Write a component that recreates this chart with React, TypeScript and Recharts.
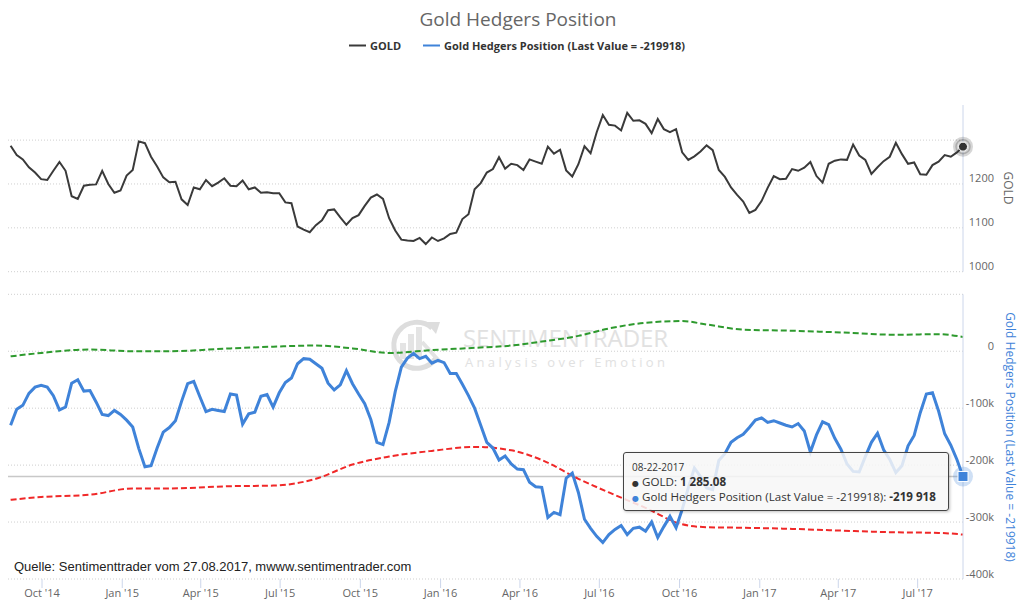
import React from 'react';
import { Line, LineChart, ReferenceLine, XAxis, YAxis } from 'recharts';

// weekly series, first week 2014-08-26, last week 2017-08-22
const START = Date.UTC(2014, 7, 26);
const WEEK = 7 * 24 * 3600 * 1000;

const goldValues = [
  1287, 1266, 1256, 1238, 1226, 1211, 1209, 1230, 1250, 1230,
  1172, 1166, 1196, 1198, 1199, 1230, 1200, 1180, 1185, 1219,
  1232, 1297, 1293, 1262, 1240, 1215, 1204, 1205, 1165, 1152,
  1192, 1188, 1209, 1195, 1203, 1213, 1196, 1195, 1208, 1188,
  1192, 1180, 1181, 1179, 1179, 1158, 1156, 1103, 1096, 1090,
  1106, 1117, 1140, 1142, 1124, 1107, 1122, 1129, 1150, 1169,
  1176, 1166, 1122, 1094, 1073, 1071, 1070, 1077, 1063, 1078,
  1070, 1076, 1086, 1089, 1120, 1131, 1188, 1202, 1226, 1234,
  1261, 1235, 1246, 1243, 1232, 1256, 1251, 1246, 1285, 1269,
  1278, 1231, 1217, 1245, 1286, 1270, 1318, 1357, 1335, 1333,
  1322, 1362, 1344, 1345, 1337, 1316, 1348, 1325, 1318, 1325,
  1272, 1255, 1263, 1274, 1288, 1277, 1232, 1216, 1192, 1175,
  1160, 1134, 1141, 1161, 1191, 1218, 1211, 1212, 1234, 1230,
  1237, 1250, 1218, 1203, 1246, 1253, 1256, 1255, 1290, 1265,
  1255, 1223, 1238, 1252, 1262, 1294, 1268, 1246, 1249, 1222,
  1221, 1243, 1251, 1266, 1262, 1272, 1285.08,
];

const hedgerValues = [
  -130000, -102000, -95000, -74000, -63000, -60000, -63000, -78000, -103000, -98000,
  -56000, -50000, -70000, -69000, -89000, -111000, -113000, -104000, -111000, -121000,
  -133000, -171000, -203000, -201000, -170000, -142000, -134000, -122000, -88000, -57000,
  -53000, -80000, -106000, -102000, -104000, -106000, -75000, -77000, -128000, -110000,
  -107000, -79000, -76000, -98000, -73000, -55000, -47000, -22000, -13000, -14000,
  -22000, -30000, -56000, -68000, -59000, -34000, -57000, -75000, -92000, -120000,
  -160000, -164000, -125000, -71000, -28000, -12000, -4000, -13000, -9000, -21000,
  -16000, -20000, -39000, -39000, -58000, -78000, -100000, -130000, -160000, -170000,
  -191000, -184000, -198000, -207000, -208000, -230000, -238000, -239000, -292000, -283000,
  -287000, -223000, -214000, -248000, -295000, -311000, -325000, -336000, -322000, -313000,
  -306000, -322000, -311000, -309000, -316000, -300000, -327000, -308000, -290000, -310000,
  -278000, -240000, -205000, -220000, -240000, -243000, -192000, -180000, -160000, -152000,
  -146000, -134000, -121000, -117000, -125000, -122000, -126000, -130000, -133000, -127000,
  -140000, -177000, -147000, -124000, -129000, -153000, -172000, -198000, -211000, -212000,
  -185000, -160000, -144000, -173000, -190000, -213000, -201000, -166000, -148000, -108000,
  -75000, -73000, -105000, -145000, -165000, -190000, -219918,
];

// the two dashed bands, read at a handful of weeks
const bandWeeks = [0, 5, 13, 20, 26, 36, 43, 50, 56, 62, 69, 76, 82, 87, 93, 98, 104, 110, 114, 120, 128, 136, 145, 152, 156];
const upperBand = [
  -9000, -3000, 3000, 0, 0, 5000, 8000, 10000, 5000, -3000, 2000, 6000, 10000,
  17000, 27000, 40000, 50000, 53000, 47000, 38000, 36000, 33000, 29000, 30000, 25000,
];
const lowerBand = [
  -261000, -256000, -252000, -241000, -241000, -237000, -236000, -224000, -199000, -185000,
  -175000, -168000, -174000, -191000, -224000, -248000, -275000, -304000, -309000, -310000,
  -312000, -315000, -318000, -319000, -322000,
];

const xTicks = [
  Date.UTC(2014, 9, 1), Date.UTC(2015, 0, 1), Date.UTC(2015, 3, 1), Date.UTC(2015, 6, 1),
  Date.UTC(2015, 9, 1), Date.UTC(2016, 0, 1), Date.UTC(2016, 3, 1), Date.UTC(2016, 6, 1),
  Date.UTC(2016, 9, 1), Date.UTC(2017, 0, 1), Date.UTC(2017, 3, 1), Date.UTC(2017, 6, 1),
];
const xTickLabels = [
  "Oct '14", "Jan '15", "Apr '15", "Jul '15", "Oct '15", "Jan '16",
  "Apr '16", "Jul '16", "Oct '16", "Jan '17", "Apr '17", "Jul '17",
];
const goldTicks = [1000, 1100, 1200, 1300];
const hedgerTicks = [-400000, -300000, -200000, -100000, 0, 100000];

const LAST = goldValues.length - 1;
const X_DOMAIN = [Date.UTC(2014, 7, 23), Date.UTC(2017, 7, 22)];
const FONT = '"Open Sans", "DejaVu Sans", Arial, sans-serif';
const BLUE = '#3f83d9';
const GOLD = '#3a3a3a';
const GRID = '#cfcfcf';
const AXIS = '#ccd6eb';

const weekly = goldValues.map((g, i) => ({ t: START + i * WEEK, gold: g, hedgers: hedgerValues[i] }));
const upperData = bandWeeks.map((w, i) => ({ t: START + w * WEEK, v: upperBand[i] }));
const lowerData = bandWeeks.map((w, i) => ({ t: START + w * WEEK, v: lowerBand[i] }));

const YTick = ({ x, y, payload, hide }: any) => {
  if (payload.value === hide) return <g />;
  const v = payload.value;
  const label = hide === 100000 ? (v === 0 ? '0' : `${v / 1000}k`) : String(v);
  return (
    <text x={x} y={y - 1.5} textAnchor="end" fontSize={11} fill="#666" fontFamily={FONT}>
      {label}
    </text>
  );
};

const XTick = ({ x, y, payload }: any) => (
  <text x={x} y={y} dy="0.71em" textAnchor="middle" fontSize={11} fill="#666" fontFamily={FONT}>
    {xTickLabels[xTicks.indexOf(payload.value)]}
  </text>
);

const goldDot = (props: any) => {
  if (props.index !== LAST) return <g key={`g${props.index}`} />;
  return (
    <g key="gold-last">
      <circle cx={props.cx} cy={props.cy} r={10} fill="#333" fillOpacity={0.2} />
      <circle cx={props.cx} cy={props.cy} r={7} fill="none" stroke="#333" strokeOpacity={0.25} strokeWidth={1.5} />
      <circle cx={props.cx} cy={props.cy} r={4.5} fill="#333" stroke="#fff" strokeWidth={1} />
    </g>
  );
};

const hedgerDot = (props: any) => {
  if (props.index !== LAST) return <g key={`h${props.index}`} />;
  return (
    <g key="hedger-last">
      <circle cx={props.cx} cy={props.cy} r={10} fill={BLUE} fillOpacity={0.25} />
      <rect x={props.cx - 5} y={props.cy - 5} width={10} height={10} fill={BLUE} stroke="#fff" strokeWidth={1} />
    </g>
  );
};

const Backdrop = () => (
  <svg width={1024} height={601} style={{ position: 'absolute', left: 0, top: 0 }}>
    <text x={518} y={26} textAnchor="middle" fontSize={19} fill="#666" fontFamily={FONT}>
      Gold Hedgers Position
    </text>
    <line x1={349} x2={366} y1={45.5} y2={45.5} stroke={GOLD} strokeWidth={2} />
    <text x={370} y={49.5} fontSize={11} fontWeight="bold" fill="#333" fontFamily={FONT}>GOLD</text>
    <line x1={423} x2={440} y1={45.5} y2={45.5} stroke={BLUE} strokeWidth={2} />
    <text x={444} y={49.5} fontSize={11} fontWeight="bold" fill="#333" fontFamily={FONT}>
      Gold Hedgers Position (Last Value = -219918)
    </text>

    {/* watermark */}
    <g opacity={0.9}>
      <path d="M 432 328 A 23 23 0 1 0 436 358" fill="none" stroke="#dadada" strokeWidth={5} />
      <polygon points="426,322 440,322 436,334" fill="#dadada" />
      <rect x={400} y={343} width={6} height={16} fill="#e2e2e2" />
      <rect x={408} y={334} width={6} height={25} fill="#e2e2e2" />
      <rect x={416} y={327} width={6} height={32} fill="#e2e2e2" />
      <line x1={422} y1={342} x2={440} y2={362} stroke="#e0e0e0" strokeWidth={4} />
      <text x={463} y={347} fontSize={24} fill="#dedede" fontFamily={FONT} textLength={205}>
        SENTIMENTRADER
      </text>
      <text x={465} y={367} fontSize={13} fill="#dedede" fontFamily={FONT} textLength={203} letterSpacing={3}>
        Analysis over Emotion
      </text>
    </g>

    <text x={14} y={570.5} fontSize={13} fill="#222" fontFamily={'"Liberation Sans", Arial, sans-serif'}>
      Quelle: Sentimenttrader vom 27.08.2017, mwww.sentimentrader.com
    </text>
    <text transform="translate(1004,188) rotate(90)" textAnchor="middle" fontSize={12} fill="#666" fontFamily={FONT}>
      GOLD
    </text>
    <text transform="translate(1006,437) rotate(90)" textAnchor="middle" fontSize={12} fill={BLUE} fontFamily={FONT}>
      Gold Hedgers Position (Last Value = -219918)
    </text>
  </svg>
);

const HoverBox = () => (
  <div
    style={{
      position: 'absolute', left: 623, top: 452, width: 326, height: 59, boxSizing: 'border-box',
      background: 'rgba(247,247,247,0.85)', border: '1px solid #444', borderRadius: 3,
      boxShadow: '1px 1px 3px rgba(0,0,0,0.25)', padding: '7px 0 0 8px',
      fontFamily: FONT, color: '#333', lineHeight: '14.5px', whiteSpace: 'nowrap',
    }}
  >
    <div style={{ fontSize: 10 }}>08-22-2017</div>
    <div style={{ fontSize: 11.6 }}>
      <span style={{ color: '#333', fontSize: 8 }}>●</span> GOLD: <b>1 285.08</b>
    </div>
    <div style={{ fontSize: 11.6 }}>
      <span style={{ color: BLUE, fontSize: 8 }}>●</span> Gold Hedgers Position (Last Value = -219918): <b>-219 918</b>
    </div>
  </div>
);

export default function App() {
  return (
    <div style={{ position: 'absolute', left: 0, top: 0, width: 1024, height: 601, background: '#fff', overflow: 'hidden' }}>
      <Backdrop />

      <div style={{ position: 'absolute', left: 0, top: 0 }}>
        <LineChart width={1024} height={290} data={weekly} margin={{ top: 105, right: 0, bottom: 18.3, left: 8 }}>
          <XAxis dataKey="t" type="number" domain={X_DOMAIN} hide />
          <YAxis
            orientation="right"
            width={61}
            domain={[1000, 1380]}
            ticks={goldTicks}
            allowDataOverflow
            tickSize={0}
            tickMargin={31}
            tickLine={false}
            axisLine={{ stroke: AXIS }}
            tick={<YTick hide={1300} />}
          />
          {goldTicks.map((v) => (
            <ReferenceLine key={v} y={v} stroke={GRID} strokeDasharray="1 2" />
          ))}
          <Line
            dataKey="gold"
            type="linear"
            stroke={GOLD}
            strokeWidth={2}
            dot={goldDot}
            activeDot={false}
            isAnimationActive={false}
          />
        </LineChart>
      </div>

      <div style={{ position: 'absolute', left: 0, top: 280 }}>
        <LineChart width={1024} height={321} data={weekly} margin={{ top: 14.3, right: 0, bottom: 0, left: 8 }}>
          <XAxis
            dataKey="t"
            type="number"
            domain={X_DOMAIN}
            ticks={xTicks}
            interval={0}
            height={22}
            axisLine={false}
            tickSize={9}
            tickMargin={1}
            tickLine={{ stroke: AXIS }}
            tick={<XTick />}
          />
          <YAxis
            orientation="right"
            width={61}
            domain={[-400000, 100000]}
            ticks={hedgerTicks}
            allowDataOverflow
            tickSize={0}
            tickMargin={31}
            tickLine={false}
            axisLine={{ stroke: AXIS }}
            tick={<YTick hide={100000} />}
          />
          {hedgerTicks.map((v) => (
            <ReferenceLine key={v} y={v} stroke={GRID} strokeDasharray="1 2" />
          ))}
          <ReferenceLine y={-219918} stroke="#c8c8c8" strokeWidth={1.5} />
          <Line
            data={upperData}
            dataKey="v"
            type="monotone"
            stroke="#2e9a2e"
            strokeWidth={2}
            strokeDasharray="6 3"
            dot={false}
            activeDot={false}
            isAnimationActive={false}
          />
          <Line
            data={lowerData}
            dataKey="v"
            type="monotone"
            stroke="#f02828"
            strokeWidth={2}
            strokeDasharray="6 3"
            dot={false}
            activeDot={false}
            isAnimationActive={false}
          />
          <Line
            dataKey="hedgers"
            type="linear"
            stroke={BLUE}
            strokeWidth={3}
            dot={hedgerDot}
            activeDot={false}
            isAnimationActive={false}
          />
        </LineChart>
      </div>

      <HoverBox />
    </div>
  );
}
